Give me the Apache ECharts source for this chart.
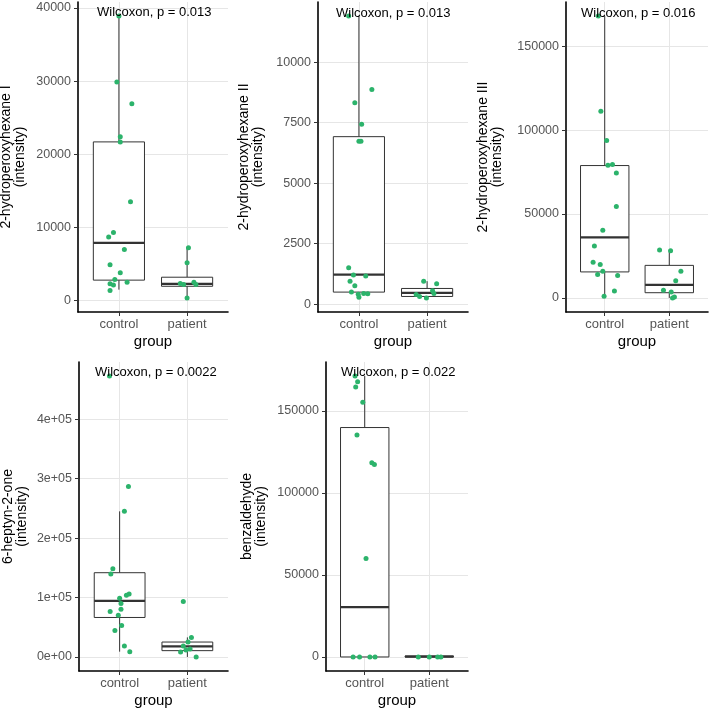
<!DOCTYPE html>
<html>
<head>
<meta charset="utf-8">
<script src="https://cdn.jsdelivr.net/npm/echarts@6/dist/echarts.min.js"></script>
<style>
  html, body { margin: 0; padding: 0; background: #fff; }
  #chart { width: 709px; height: 710px; }
</style>
</head>
<body>
<div id="chart"></div>
<script>
const groups = ['control', 'patient'];

// points are [x with jitter, intensity]; box rows are [x, lower, Q1, median, Q3, upper]
const hexIControl = [[1.00, 38900], [0.97, 29900], [1.19, 26900], [1.02, 22400], [1.02, 21700], [1.17, 13500],
  [0.92, 9300], [0.85, 8700], [1.08, 7000], [0.87, 4900], [1.02, 3800], [0.94, 2900], [1.12, 2500],
  [0.87, 2300], [0.92, 2150], [0.87, 1400]];
const hexIPatient = [[2.02, 7220], [2.00, 5160], [1.90, 2330], [1.95, 2190], [2.10, 2510], [2.13, 2190], [2.00, 370]];
const hexIBox = [[1, 1500, 2800, 7900, 21700, 38900], [2, 370, 1960, 2290, 3200, 7220]];

const hexIIControl = [[0.85, 11900], [1.19, 8870], [0.94, 8320], [1.04, 7430], [1.00, 6730], [1.03, 6730],
  [0.85, 1510], [0.92, 1210], [1.10, 1160], [0.87, 950], [0.94, 760], [0.89, 500], [0.99, 410],
  [1.00, 290], [1.07, 440], [1.13, 430]];
const hexIIPatient = [[1.95, 950], [2.14, 840], [2.08, 560], [1.84, 400], [1.89, 320], [1.99, 260], [2.10, 440]];
const hexIIBox = [[1, 290, 500, 1220, 6920, 11900], [2, 260, 320, 470, 650, 950]];

const hexIIIControl = [[0.90, 168000], [0.94, 111200], [1.03, 93800], [1.05, 79100], [1.12, 79500], [1.18, 74400],
  [1.18, 54500], [0.97, 40400], [0.84, 30900], [0.82, 21300], [0.93, 19900], [0.97, 15900], [0.89, 13900],
  [1.20, 13300], [1.15, 4100], [0.99, 1000]];
const hexIIIPatient = [[1.85, 28600], [2.02, 28100], [2.18, 15900], [2.10, 10300], [1.91, 4500], [2.03, 3500],
  [2.08, 600], [2.05, 0]];
const hexIIIBox = [[1, 1000, 15500, 36100, 78900, 168000], [2, 0, 3100, 7800, 19400, 28100]];

const heptynControl = [[0.85, 472500], [1.13, 286800], [1.07, 244900], [0.90, 148400], [0.87, 139500], [1.14, 106000],
  [1.10, 103800], [1.00, 98700], [1.02, 89800], [1.02, 80300], [0.86, 76400], [0.98, 70300], [1.03, 53000],
  [0.93, 44600], [1.07, 18400], [1.15, 8900]];
const heptynPatient = [[1.94, 93200], [2.06, 32900], [2.01, 25100], [1.94, 18400], [2.04, 13400], [1.98, 11700],
  [1.90, 8400], [2.13, 0]];
const heptynBox = [[1, 8900, 66400, 94300, 141700, 244900], [2, 0, 10600, 17900, 25100, 32900]];

const benzControl = [[0.85, 171300], [0.89, 167800], [0.86, 164600], [0.97, 155300], [0.88, 135400], [1.11, 118400],
  [1.15, 117400], [1.02, 60000], [0.82, 0], [0.92, 0], [1.08, 0], [1.16, 0]];
const benzPatient = [[1.83, 0], [2.00, 0], [2.13, 0], [2.18, 0]];
const benzBox = [[1, 0, 0, 30400, 139900, 171300], [2, 0, 0, 200, 600, 900]];

const yTitles = ['2-hydroperoxyhexane I', '2-hydroperoxyhexane II', '2-hydroperoxyhexane III', '6-heptyn-2-one', 'benzaldehyde'];
const pLabels = ['Wilcoxon, p = 0.013', 'Wilcoxon, p = 0.013', 'Wilcoxon, p = 0.016', 'Wilcoxon, p = 0.0022', 'Wilcoxon, p = 0.022'];
const yTicks = [
  [0, 10000, 20000, 30000, 40000],
  [0, 2500, 5000, 7500, 10000],
  [0, 50000, 100000, 150000],
  [0, 100000, 200000, 300000, 400000],
  [0, 50000, 100000, 150000]
];

const FONT = "'Liberation Sans', Arial, sans-serif";
const TICK_COLOR = '#555';
const GRID_COLOR = '#e6e6e6';
const BOX_COLOR = '#333';
const POINT_COLOR = '#2cb36b';
const BOX_WIDTH = 0.75;

const panels = [
  { control: hexIControl, patient: hexIPatient, box: hexIBox, grid: [78, 2, 150, 310], nameGap: 51, text: [97, 12.5] },
  { control: hexIIControl, patient: hexIIPatient, box: hexIIBox, grid: [318, 2, 150, 310], nameGap: 53, text: [336, 13] },
  { control: hexIIIControl, patient: hexIIIPatient, box: hexIIIBox, grid: [566, 2, 142, 310], nameGap: 62, text: [581, 13.5] },
  { control: heptynControl, patient: heptynPatient, box: heptynBox, grid: [79, 362, 149, 309], nameGap: 50, text: [95, 372.5], sci: true },
  { control: benzControl, patient: benzPatient, box: benzBox, grid: [326, 362, 142, 309], nameGap: 58, text: [341, 372.5] }
];

function sciLabel(v) {
  if (v === 0) return '0e+00';
  const e = Math.floor(Math.log10(v));
  const m = Math.round(v / Math.pow(10, e));
  return m + 'e+' + String(e).padStart(2, '0');
}

function dataRange(p) {
  let lo = Infinity, hi = -Infinity;
  p.control.concat(p.patient).forEach(d => { lo = Math.min(lo, d[1]); hi = Math.max(hi, d[1]); });
  p.box.forEach(b => { lo = Math.min(lo, b[1]); hi = Math.max(hi, b[5]); });
  const pad = (hi - lo) * 0.05;
  return [lo - pad, hi + pad];
}

function renderBox(params, api) {
  const x = api.value(0);
  const lo = api.coord([x, api.value(1)]);
  const q1 = api.coord([x, api.value(2)]);
  const med = api.coord([x, api.value(3)]);
  const q3 = api.coord([x, api.value(4)]);
  const hi = api.coord([x, api.value(5)]);
  const half = api.size([BOX_WIDTH, 0])[0] / 2;
  const line = { stroke: BOX_COLOR, lineWidth: 1 };
  return {
    type: 'group',
    children: [
      { type: 'line', shape: { x1: hi[0], y1: hi[1], x2: q3[0], y2: q3[1] }, style: line },
      { type: 'line', shape: { x1: q1[0], y1: q1[1], x2: lo[0], y2: lo[1] }, style: line },
      { type: 'rect', shape: { x: q3[0] - half, y: q3[1], width: half * 2, height: Math.max(q1[1] - q3[1], 0.5) },
        style: { fill: '#fff', stroke: BOX_COLOR, lineWidth: 1 } },
      { type: 'line', shape: { x1: med[0] - half, y1: med[1], x2: med[0] + half, y2: med[1] },
        style: { stroke: BOX_COLOR, lineWidth: 2.2 } }
    ]
  };
}

const grid = [], xAxis = [], yAxis = [], series = [], graphic = [];

panels.forEach((p, i) => {
  const range = dataRange(p);
  grid.push({ left: p.grid[0], top: p.grid[1], width: p.grid[2], height: p.grid[3], containLabel: false, outerBoundsMode: 'none' });
  xAxis.push({
    type: 'value', gridIndex: i, min: 0.4, max: 2.6,
    axisLine: { show: true, onZero: false, lineStyle: { color: '#000', width: 1.6 } },
    axisTick: { show: true, customValues: [1, 2], length: 4, lineStyle: { color: '#333' } },
    axisLabel: { customValues: [1, 2], formatter: v => groups[Math.round(v) - 1], margin: 6,
      color: TICK_COLOR, fontSize: 13, fontFamily: FONT },
    splitLine: { show: true, lineStyle: { color: GRID_COLOR, width: 1 } },
    name: 'group', nameLocation: 'middle', nameGap: 22, nameMoveOverlap: false,
    nameTextStyle: { color: '#000', fontSize: 15, fontFamily: FONT }
  });
  yAxis.push({
    type: 'value', gridIndex: i, min: range[0], max: range[1],
    axisLine: { show: true, onZero: false, lineStyle: { color: '#000', width: 1.6 } },
    axisTick: { show: true, customValues: yTicks[i], length: 4, lineStyle: { color: '#333' } },
    axisLabel: { customValues: yTicks[i], formatter: v => p.sci ? sciLabel(v) : String(v), margin: 7,
      color: TICK_COLOR, fontSize: 12.5, fontFamily: FONT },
    splitLine: { show: true, lineStyle: { color: GRID_COLOR, width: 1 } },
    name: yTitles[i] + '\n(intensity)', nameLocation: 'middle', nameGap: p.nameGap, nameMoveOverlap: false,
    nameTextStyle: { color: '#000', fontSize: 14, lineHeight: 14, fontFamily: FONT }
  });
  series.push({
    type: 'custom', xAxisIndex: i, yAxisIndex: i, renderItem: renderBox,
    encode: { x: 0, y: [1, 2, 3, 4, 5] }, data: p.box, z: 2, silent: true
  });
  series.push({
    type: 'scatter', xAxisIndex: i, yAxisIndex: i, data: p.control.concat(p.patient),
    symbolSize: 5, itemStyle: { color: POINT_COLOR, opacity: 1 }, z: 3, silent: true
  });
  graphic.push({
    type: 'text', x: p.text[0], y: p.text[1], z: 10,
    style: { text: pLabels[i], fill: '#000', fontSize: 13, fontFamily: FONT, verticalAlign: 'middle' }
  });
});

const chart = echarts.init(document.getElementById('chart'), null, { renderer: 'canvas' });
chart.setOption({
  animation: false,
  backgroundColor: '#fff',
  grid: grid,
  xAxis: xAxis,
  yAxis: yAxis,
  series: series,
  graphic: graphic
});
</script>
</body>
</html>
